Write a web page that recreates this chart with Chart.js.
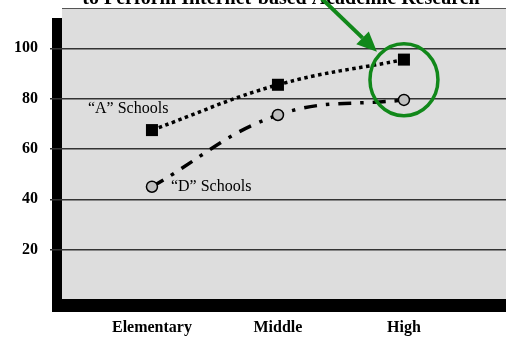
<!DOCTYPE html>
<html>
<head>
<meta charset="utf-8">
<script src="https://cdn.jsdelivr.net/npm/chart.js@4/dist/chart.umd.min.js"></script>
<style>
  html, body { margin: 0; padding: 0; background: #fff; overflow: hidden; }
  canvas { display: block; }
</style>
</head>
<body>
<canvas id="schoolChart" width="506" height="337"></canvas>
<script>
const levels = ['Elementary', 'Middle', 'High'];
const aSchools = [67.5, 85.5, 95.5];
const dSchools = [45, 73.5, 79.5];
const yTicks = [20, 40, 60, 80, 100];
const seriesNames = ['\u201CA\u201D Schools', '\u201CD\u201D Schools'];
const titleLine = 'to Perform Internet-based Academic Research';

const serif = '"Liberation Serif", "Times New Roman", serif';
const green = '#11881a';

const toPoints = values => values.map((v, i) => ({x: i + 1, y: v}));

// no extra room for overflowing tick labels, the box fills the canvas
function noPadding(scale) {
    scale.paddingTop = 0;
    scale.paddingBottom = 0;
    scale.paddingLeft = 0;
    scale.paddingRight = 0;
}

// grey plot box with the black drop shadow behind it
const plotBackdrop = {
    id: 'plotBackdrop',
    beforeDraw(chart) {
        const {ctx, chartArea: a} = chart;
        ctx.save();
        ctx.fillStyle = '#000';
        ctx.fillRect(a.left - 10, a.top + 10, a.right - a.left + 10, a.bottom - a.top + 2);
        ctx.fillStyle = '#dddddd';
        ctx.fillRect(a.left, a.top, a.right - a.left, a.bottom - a.top - 1);
        ctx.strokeStyle = '#555';
        ctx.lineWidth = 1;
        ctx.beginPath();
        ctx.moveTo(a.left, a.top + 0.5);
        ctx.lineTo(a.right, a.top + 0.5);
        ctx.stroke();
        ctx.restore();
    }
};

// series labels, green circle + arrow, and the clipped title line
const callouts = {
    id: 'callouts',
    afterDatasetsDraw(chart) {
        const {ctx} = chart;
        const xs = chart.scales.x, ys = chart.scales.y;
        ctx.save();
        ctx.fillStyle = '#000';
        ctx.font = '16px ' + serif;
        ctx.textBaseline = 'middle';
        ctx.textAlign = 'left';
        ctx.fillText(seriesNames[0], xs.getPixelForValue(1) - 64, ys.getPixelForValue(aSchools[0]) - 21);
        ctx.fillText(seriesNames[1], xs.getPixelForValue(1) + 19, ys.getPixelForValue(dSchools[0]));
        ctx.restore();
    },
    afterDraw(chart) {
        const {ctx} = chart;
        const xs = chart.scales.x, ys = chart.scales.y;
        ctx.save();
        ctx.fillStyle = '#000';
        ctx.font = 'bold 20px ' + serif;
        ctx.textAlign = 'center';
        ctx.textBaseline = 'alphabetic';
        ctx.fillText(titleLine, 281, 4);

        const cx = xs.getPixelForValue(3);
        const cy = ys.getPixelForValue((aSchools[2] + dSchools[2]) / 2);
        ctx.strokeStyle = green;
        ctx.lineWidth = 3.5;
        ctx.beginPath();
        ctx.ellipse(cx, cy, 34, 36, 0, 0, Math.PI * 2);
        ctx.stroke();

        // arrow pointing at the circle
        const tipX = cx - 27, tipY = cy - 28;
        const ang = Math.atan2(52, 54);
        const headLen = 20, headHalf = 9;
        const baseX = tipX - headLen * Math.cos(ang), baseY = tipY - headLen * Math.sin(ang);
        ctx.lineWidth = 4;
        ctx.beginPath();
        ctx.moveTo(tipX - 90 * Math.cos(ang), tipY - 90 * Math.sin(ang));
        ctx.lineTo(baseX, baseY);
        ctx.stroke();
        ctx.fillStyle = green;
        ctx.beginPath();
        ctx.moveTo(tipX, tipY);
        ctx.lineTo(baseX + headHalf * Math.sin(ang), baseY - headHalf * Math.cos(ang));
        ctx.lineTo(baseX - headHalf * Math.sin(ang), baseY + headHalf * Math.cos(ang));
        ctx.closePath();
        ctx.fill();
        ctx.restore();
    }
};

new Chart(document.getElementById('schoolChart').getContext('2d'), {
    type: 'line',
    data: {
        datasets: [{
            label: seriesNames[0],
            data: toPoints(aSchools),
            borderColor: '#000',
            borderWidth: 3.5,
            borderDash: [3.5, 3.5],
            borderCapStyle: 'butt',
            tension: 0.4,
            pointStyle: 'rect',
            pointRadius: 8.5,
            pointBackgroundColor: '#000',
            pointBorderWidth: 0
        }, {
            label: seriesNames[1],
            data: toPoints(dSchools),
            borderColor: '#000',
            borderWidth: 3.5,
            borderDash: [13, 9, 3.5, 9],
            borderCapStyle: 'butt',
            tension: 0.4,
            pointStyle: 'circle',
            pointRadius: 5.5,
            pointBackgroundColor: '#c0c0c0',
            pointBorderColor: '#000',
            pointBorderWidth: 1.5
        }]
    },
    options: {
        responsive: false,
        animation: false,
        layout: {autoPadding: false, padding: {top: 8, left: 0, right: 0, bottom: 0}},
        plugins: {
            legend: {display: false},
            tooltip: {enabled: false}
        },
        scales: {
            x: {
                type: 'linear',
                min: 0.286,
                max: 3.81,
                afterBuildTicks: scale => { scale.ticks = levels.map((_, i) => ({value: i + 1})); },
                afterFit: scale => { scale.height = 37; noPadding(scale); },
                grid: {display: false, drawTicks: false},
                border: {display: false},
                ticks: {
                    padding: 18,
                    color: '#000',
                    autoSkip: false,
                    maxRotation: 0,
                    callback: v => levels[v - 1],
                    font: {family: serif, size: 16, weight: 'bold'}
                }
            },
            y: {
                min: 0,
                max: 116,
                afterBuildTicks: scale => { scale.ticks = yTicks.map(v => ({value: v})); },
                afterFit: scale => { scale.width = 62; noPadding(scale); },
                grid: {color: '#333', lineWidth: 1.5, tickLength: 12, tickColor: '#333'},
                border: {display: false},
                ticks: {
                    padding: 12,
                    color: '#000',
                    font: {family: serif, size: 16, weight: 'bold'}
                }
            }
        }
    },
    plugins: [plotBackdrop, callouts]
});
</script>
</body>
</html>
